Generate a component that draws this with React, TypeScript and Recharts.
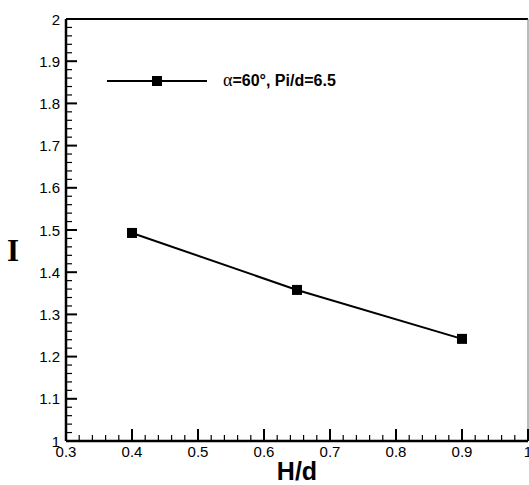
import { LineChart, Line, XAxis, YAxis, ReferenceLine } from 'recharts'

const hd = [0.4, 0.65, 0.9]
const intensity = [1.493, 1.358, 1.242]
const xMajor = [0.3, 0.4, 0.5, 0.6, 0.7, 0.8, 0.9, 1]
const yMajor = [1, 1.1, 1.2, 1.3, 1.4, 1.5, 1.6, 1.7, 1.8, 1.9, 2]
const seriesName = 'α=60°, Pi/d=6.5'

const data = hd.map((h, i) => ({ hd: h, I: intensity[i] }))

// minor ticks every 0.02 between the majors
function withMinors(majors: number[]) {
  const out: number[] = []
  for (let i = 0; i < majors.length - 1; i++) {
    for (let k = 0; k < 5; k++) out.push(Math.round((majors[i] + (k * (majors[i + 1] - majors[i])) / 5) * 1000) / 1000)
  }
  out.push(majors[majors.length - 1])
  return out
}
const isMajor = (v: number) => Math.abs(v * 10 - Math.round(v * 10)) < 1e-6

const font = '"Liberation Sans", Arial, sans-serif'

function YTick({ x, y, payload }: any) {
  const major = isMajor(payload.value)
  return (
    <g>
      <line x1={x} y1={y} x2={x + (major ? 11 : 6)} y2={y} stroke="#000" strokeWidth={major ? 2 : 1.2} />
      {major && (
        <text x={x - 6} y={y} textAnchor="end" dominantBaseline="central" fontFamily={font} fontSize={15} fill="#000">
          {String(payload.value)}
        </text>
      )}
    </g>
  )
}

function XTick({ x, y, payload }: any) {
  const major = isMajor(payload.value)
  return (
    <g>
      <line x1={x} y1={y} x2={x} y2={y - (major ? 12 : 6)} stroke="#000" strokeWidth={major ? 2 : 1.2} />
      {major && (
        <text x={x} y={y + 16} textAnchor="middle" fontFamily={font} fontSize={15} fill="#000">
          {String(payload.value)}
        </text>
      )}
    </g>
  )
}

function SquareDot({ cx, cy }: any) {
  return <rect x={cx - 5} y={cy - 5} width={10} height={10} fill="#000" />
}

export default function App() {
  return (
    <div style={{ position: 'absolute', left: 0, top: 0, width: 529, height: 485, background: '#fff' }}>
      <LineChart width={529} height={485} data={data} margin={{ top: 19, right: 1, bottom: 43, left: 65 }}>
        <ReferenceLine y={2} stroke="#000" strokeWidth={2} />
        <ReferenceLine x={1} stroke="#777" strokeWidth={1} />
        <XAxis
          dataKey="hd"
          type="number"
          domain={[0.3, 1]}
          ticks={withMinors(xMajor)}
          interval={0}
          height={1}
          tickSize={0}
          tickMargin={0}
          tick={<XTick />}
          axisLine={{ stroke: '#000', strokeWidth: 2.5 }}
          allowDataOverflow
        />
        <YAxis
          type="number"
          domain={[1, 2]}
          ticks={withMinors(yMajor)}
          interval={0}
          width={1}
          tickSize={0}
          tickMargin={0}
          tick={<YTick />}
          axisLine={{ stroke: '#000', strokeWidth: 2.5 }}
          allowDataOverflow
        />
        <Line
          dataKey="I"
          name={seriesName}
          stroke="#000"
          strokeWidth={2}
          dot={<SquareDot />}
          isAnimationActive={false}
        />
        {/* legend */}
        <line x1={107} y1={81} x2={207} y2={81} stroke="#000" strokeWidth={2} />
        <rect x={152} y={76} width={10} height={10} fill="#000" />
        <text x={223} y={86} fontFamily={font} fontSize={16} fontWeight="bold" fill="#000">
          <tspan fontFamily='"Liberation Serif", serif' fontWeight="normal" fontSize={18}>α</tspan>
          {seriesName.slice(1)}
        </text>
        <text x={297} y={480} textAnchor="middle" fontFamily={font} fontSize={25} fontWeight="bold" fill="#000">
          H/d
        </text>
        <text x={13} y={261} textAnchor="middle" fontFamily='"Liberation Serif", serif' fontSize={31} fontWeight="bold" fill="#000">
          I
        </text>
      </LineChart>
    </div>
  )
}
